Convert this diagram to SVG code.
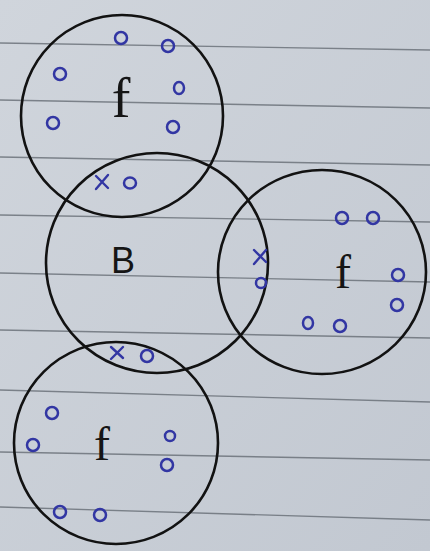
<svg xmlns="http://www.w3.org/2000/svg" width="430" height="551" viewBox="0 0 430 551">
  <defs>
    <linearGradient id="paper" x1="0" y1="0" x2="1" y2="1">
      <stop offset="0" stop-color="#d0d5dc"/>
      <stop offset="1" stop-color="#c2c8d1"/>
    </linearGradient>
  </defs>
  <style>
    .rule { stroke: #5f656d; stroke-width: 1.3; fill: none; opacity: 0.75; }
    .ring { fill: none; stroke: #121212; stroke-width: 2.6; }
    .o { fill: none; stroke: #3236a3; stroke-width: 2.5; }
    .x { stroke: #3236a3; stroke-width: 2.4; fill: none; stroke-linecap: round; }
    .f { font-family: "Liberation Serif", serif; fill: #151515; text-anchor: middle; }
    .b { font-family: "Liberation Sans", sans-serif; fill: #151515; text-anchor: middle; }
  </style>
  <rect x="0" y="0" width="430" height="551" fill="url(#paper)"/>
  <g id="ruled-lines">
    <line class="rule" x1="0" y1="43" x2="430" y2="50"/>
    <line class="rule" x1="0" y1="100" x2="430" y2="108"/>
    <line class="rule" x1="0" y1="157" x2="430" y2="165"/>
    <line class="rule" x1="0" y1="215" x2="430" y2="222"/>
    <line class="rule" x1="0" y1="273" x2="430" y2="282"/>
    <line class="rule" x1="0" y1="330" x2="430" y2="338"/>
    <line class="rule" x1="0" y1="390" x2="430" y2="402"/>
    <line class="rule" x1="0" y1="452" x2="430" y2="460"/>
    <line class="rule" x1="0" y1="507" x2="430" y2="520"/>
  </g>
  <g id="connectors"></g>
  <g id="node-f-top">
    <ellipse class="ring" cx="122" cy="116" rx="101" ry="101"/>
    <text class="f" x="121" y="117" font-size="56">f</text>
    <ellipse class="o" cx="121" cy="38" rx="6" ry="6"/>
    <ellipse class="o" cx="168" cy="46" rx="6" ry="6"/>
    <ellipse class="o" cx="60" cy="74" rx="6" ry="6"/>
    <ellipse class="o" cx="179" cy="88" rx="5" ry="6"/>
    <ellipse class="o" cx="53" cy="123" rx="6" ry="6"/>
    <ellipse class="o" cx="173" cy="127" rx="6" ry="6"/>
  </g>
  <g id="node-B">
    <ellipse class="ring" cx="157" cy="263" rx="111" ry="110"/>
    <text class="b" x="123" y="273" font-size="36">B</text>
  </g>
  <g id="node-f-right">
    <ellipse class="ring" cx="322" cy="272" rx="104" ry="102"/>
    <text class="f" x="343" y="288" font-size="48">f</text>
    <ellipse class="o" cx="342" cy="218" rx="6" ry="6"/>
    <ellipse class="o" cx="373" cy="218" rx="6" ry="6"/>
    <ellipse class="o" cx="398" cy="275" rx="6" ry="6"/>
    <ellipse class="o" cx="397" cy="305" rx="6" ry="6"/>
    <ellipse class="o" cx="308" cy="323" rx="5" ry="6"/>
    <ellipse class="o" cx="340" cy="326" rx="6" ry="6"/>
  </g>
  <g id="node-f-bottom">
    <ellipse class="ring" cx="116" cy="443" rx="102" ry="101"/>
    <text class="f" x="102" y="460" font-size="48">f</text>
    <ellipse class="o" cx="52" cy="413" rx="6" ry="6"/>
    <ellipse class="o" cx="33" cy="445" rx="6" ry="6"/>
    <ellipse class="o" cx="170" cy="436" rx="5" ry="5"/>
    <ellipse class="o" cx="167" cy="465" rx="6" ry="6"/>
    <ellipse class="o" cx="60" cy="512" rx="6" ry="6"/>
    <ellipse class="o" cx="100" cy="515" rx="6" ry="6"/>
  </g>
  <g id="shared-marks">
    <path class="x" d="M96 176 L108 188 M108 175 L96 189"/>
    <ellipse class="o" cx="130" cy="183" rx="6" ry="5.5"/>
    <path class="x" d="M254 250 L266 262 M266 250 L254 264"/>
    <ellipse class="o" cx="261" cy="283" rx="5" ry="5"/>
    <path class="x" d="M111 347 L123 358 M123 347 L111 359"/>
    <ellipse class="o" cx="147" cy="356" rx="6" ry="6"/>
  </g>
</svg>
